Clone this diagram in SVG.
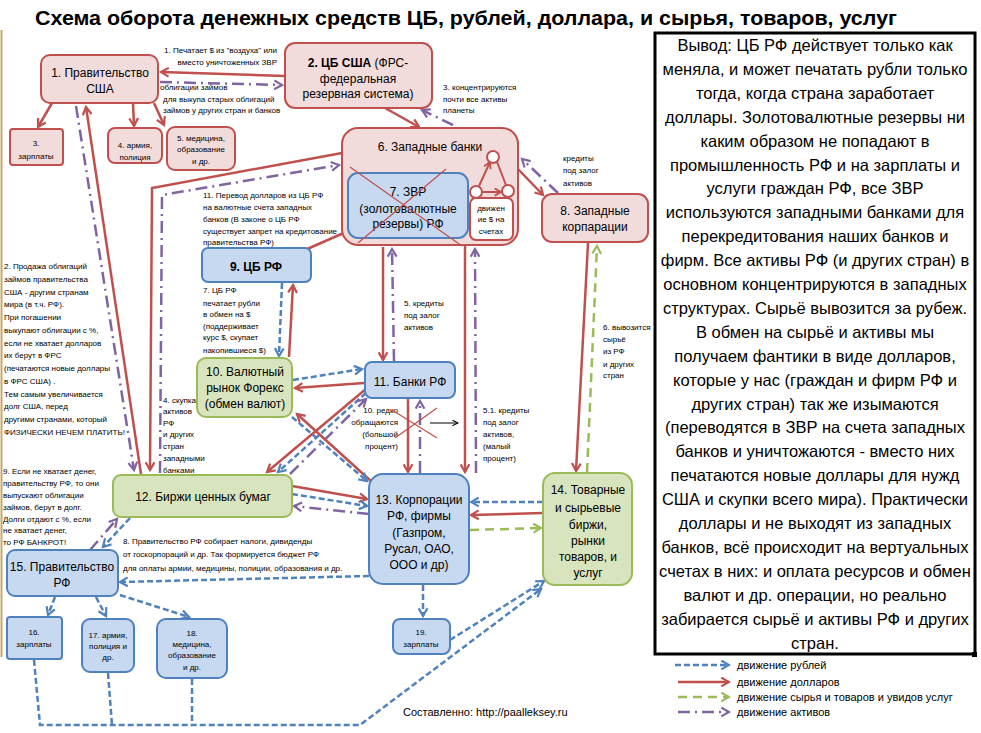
<svg xmlns="http://www.w3.org/2000/svg" width="981" height="733" viewBox="0 0 981 733">
<style>
.t{font-family:"Liberation Sans",Arial,sans-serif;fill:#000}
.s{font-size:8px}
.n{font-size:12px;text-anchor:middle}
.ns{font-size:8px;text-anchor:middle}
.pk{fill:#f2dcdb;stroke:#c0504d;stroke-width:2}
.bl{fill:#c6d9f1;stroke:#4f81bd;stroke-width:2}
.gr{fill:#d7e4bd;stroke:#9bbb59;stroke-width:2}
.wh{fill:#fff;stroke:#c0504d;stroke-width:2}
.r{stroke:#c0504d;stroke-width:2.5;fill:none;marker-end:url(#ar)}
.rn{stroke:#c0504d;stroke-width:2.5;fill:none}
.b{stroke:#4f81bd;stroke-width:2.5;fill:none;stroke-dasharray:6 3;marker-end:url(#ab)}
.bn{stroke:#4f81bd;stroke-width:2.5;fill:none;stroke-dasharray:6 3}
.g{stroke:#9bbb59;stroke-width:2.5;fill:none;stroke-dasharray:9 6;marker-end:url(#ag)}
.p{stroke:#8064a2;stroke-width:2.5;fill:none;stroke-dasharray:12 5 2 5;marker-end:url(#ap)}
.x{stroke:#c0504d;stroke-width:1.2;fill:none}
</style>
<defs>
<marker id="ar" viewBox="0 0 10 10" refX="8" refY="5" markerWidth="11" markerHeight="11" markerUnits="userSpaceOnUse" orient="auto"><path d="M1,1 L8,5 L1,9" fill="none" stroke="#c0504d" stroke-width="2"/></marker>
<marker id="ars" viewBox="0 0 10 10" refX="8" refY="5" markerWidth="9" markerHeight="9" markerUnits="userSpaceOnUse" orient="auto-start-reverse"><path d="M1,1 L8,5 L1,9" fill="none" stroke="#c0504d" stroke-width="2"/></marker>
<marker id="ab" viewBox="0 0 10 10" refX="8" refY="5" markerWidth="11" markerHeight="11" markerUnits="userSpaceOnUse" orient="auto"><path d="M1,1 L8,5 L1,9" fill="none" stroke="#4f81bd" stroke-width="2"/></marker>
<marker id="ag" viewBox="0 0 10 10" refX="8" refY="5" markerWidth="11" markerHeight="11" markerUnits="userSpaceOnUse" orient="auto"><path d="M1,1 L8,5 L1,9" fill="none" stroke="#9bbb59" stroke-width="2"/></marker>
<marker id="ap" viewBox="0 0 10 10" refX="8" refY="5" markerWidth="11" markerHeight="11" markerUnits="userSpaceOnUse" orient="auto"><path d="M1,1 L8,5 L1,9" fill="none" stroke="#8064a2" stroke-width="2"/></marker>
<marker id="ak" viewBox="0 0 10 10" refX="9" refY="5" markerWidth="7" markerHeight="7" markerUnits="userSpaceOnUse" orient="auto"><path d="M1,1 L9,5 L1,9" fill="none" stroke="#000" stroke-width="1.5"/></marker>
</defs>
<rect width="981" height="733" fill="#fff"/>
<line x1="1.5" y1="30" x2="1.5" y2="657" stroke="#c8a868" stroke-width="2"/>

<text class="t" x="35" y="25" font-size="20" font-weight="bold" textLength="862" lengthAdjust="spacingAndGlyphs">Схема оборота денежных средств ЦБ, рублей, доллара, и сырья, товаров, услуг</text>

<!-- free labels -->
<g id="labels" class="t s">
<text x="277" y="53" text-anchor="end">1. Печатает $  из "воздуха"  или</text>
<text x="277" y="65" text-anchor="end">вместо уничтоженных ЗВР</text>
<text x="160" y="90">облигации займов</text>
<text x="163" y="102">для выкупа старых облигаций</text>
<text x="163" y="113">займов у других стран и банков</text>
<text x="443" y="90">3. концентрируются</text>
<text x="443" y="102">почти все активы</text>
<text x="443" y="113"> планеты</text>
<text x="563" y="161">кредиты</text>
<text x="563" y="173">под залог</text>
<text x="563" y="186">активов</text>
<text x="203" y="198">11. Перевод долларов из ЦБ РФ</text>
<text x="203" y="210">на валютные счета западных</text>
<text x="203" y="222"> банков (В законе о ЦБ РФ</text>
<text x="203" y="234"> существует запрет на кредитование</text>
<text x="203" y="245"> правительства РФ)</text>
<text x="203" y="293">7. ЦБ РФ</text>
<text x="203" y="306">печатает рубли</text>
<text x="203" y="317">в обмен на $</text>
<text x="203" y="329">(поддерживает</text>
<text x="203" y="340">курс $, скупает</text>
<text x="203" y="353"> накопившиеся $)</text>
<text x="404" y="306">5. кредиты</text>
<text x="404" y="318">под залог</text>
<text x="404" y="330">активов</text>
<text x="603" y="330">6. вывозится</text>
<text x="603" y="342">сырьё</text>
<text x="603" y="354">из РФ</text>
<text x="603" y="367">и других</text>
<text x="603" y="378">стран</text>
<text x="398" y="413" text-anchor="end">10. редко</text>
<text x="398" y="425" text-anchor="end">обращаются</text>
<text x="398" y="437" text-anchor="end">(большой</text>
<text x="398" y="449" text-anchor="end">процент)</text>
<text x="483" y="413">5.1. кредиты</text>
<text x="483" y="425">под залог</text>
<text x="483" y="437">активов,</text>
<text x="483" y="449">(малый</text>
<text x="483" y="461">процент)</text>
<text x="163" y="403">4. скупка</text>
<text x="163" y="414">активов</text>
<text x="163" y="426">РФ</text>
<text x="163" y="437">и других</text>
<text x="163" y="449">стран</text>
<text x="163" y="461">западными</text>
<text x="163" y="473">банками</text>
<text x="4" y="269">2. Продажа облигаций</text>
<text x="4" y="282">займов правительства</text>
<text x="4" y="295">США - другим странам</text>
<text x="4" y="307"> мира (в т.ч. РФ).</text>
<text x="4" y="320">При погашении</text>
<text x="4" y="333">выкупают облигации с %,</text>
<text x="4" y="346">если не хватает долларов</text>
<text x="4" y="358">их берут в ФРС</text>
<text x="4" y="371">(печатаются новые доллары</text>
<text x="4" y="384"> в ФРС США) .</text>
<text x="4" y="397">Тем самым увеличивается</text>
<text x="4" y="409">долг США, перед</text>
<text x="4" y="422">другими странами, который</text>
<text x="4" y="435">ФИЗИЧЕСКИ НЕЧЕМ ПЛАТИТЬ!</text>
<text x="3" y="474">9. Если не хватает денег,</text>
<text x="3" y="486">правительству РФ, то они</text>
<text x="3" y="498">выпускают облигации</text>
<text x="3" y="510"> займов, берут в долг.</text>
<text x="3" y="522">Долги отдают с %, если</text>
<text x="3" y="533">не хватает денег,</text>
<text x="3" y="545">то РФ БАНКРОТ!</text>
<text x="123" y="544">8. Правительство РФ собирает налоги, дивиденды</text>
<text x="123" y="557"> от госкорпораций и др. Так формируется бюджет РФ</text>
<text x="123" y="571">для оплаты армии, медицины, полиции, образования и др.</text>
</g>

<!-- connectors -->
<g id="connectors">
<path class="r" d="M285,76 L161,72"/>
<path class="p" d="M160,82 L282,85"/>
<path class="r" d="M52,103 L38,127"/>
<path class="r" d="M133,103 L134,126"/>
<path class="r" d="M154,103 L164,125"/>
<path class="r" d="M385,108 L419,127"/>
<path class="p" d="M453,125 L422,110"/>
<path class="r" d="M141,474 L86,107"/>
<path class="p" d="M76,106 L134,470"/>
<path class="r" d="M342,153 L152,188 L150,470"/>
<path class="p" d="M160,473 L162,195 L339,165"/>
<path class="r" d="M517,168 L543,195"/>
<path class="p" d="M558,193 L522,159"/>
<path class="r" d="M588,243 L576,471"/>
<path class="g" d="M587,472 L597,246"/>
<path class="r" d="M305,250 L355,228"/>
<path class="b" d="M282,283 L279,356"/>
<path class="r" d="M289,357 L293,285"/>
<path class="r" d="M383,247 L383,360"/>
<path class="p" d="M394,361 L392,249"/>
<path class="r" d="M465,246 L465,472"/>
<path class="p" d="M476,473 L475,249"/>
<path class="r" d="M408,399 L408,472"/>
<path class="p" d="M420,473 L420,401"/>
<path class="b" d="M293,380 L362,369"/>
<path class="r" d="M364,383 L295,388"/>
<path class="r" d="M367,388 L267,472"/>
<path class="b" d="M366,393 L278,472"/>
<path class="p" d="M290,474 L366,399"/>
<path class="r" d="M372,482 L297,414"/>
<path class="b" d="M292,417 L367,481"/>
<path class="r" d="M292,486 L367,499"/>
<path class="b" d="M292,494 L367,506"/>
<path class="p" d="M369,514 L294,506"/>
<path class="b" d="M543,502 L471,502"/>
<path class="r" d="M543,513 L471,515"/>
<path class="g" d="M470,530 L541,528"/>
<path class="b" d="M369,576 L120,582"/>
<path class="b" d="M130,518 L103,547"/>
<path class="p" d="M90,550 L117,519"/>
<path class="b" d="M55,597 L48,615"/>
<path class="b" d="M96,597 L106,616"/>
<path class="b" d="M120,595 L189,617"/>
<path class="b" d="M423,585 L423,616"/>
<path class="b" d="M34,660 L40,725 L360,725 L541,589"/>
<path class="bn" d="M108,673 L112,725"/>
<path class="bn" d="M192,679 L192,725"/>
<path class="b" d="M450,640 L544,581"/>
<path d="M430,423 L458,423" stroke="#000" stroke-width="1" fill="none" marker-end="url(#ak)"/>
<path class="x" d="M392,410 L437,438 M395,438 L437,408"/>
</g>

<!-- nodes -->
<g id="n1"><rect class="pk" x="41" y="55" width="117" height="48" rx="9"/><text class="t n" x="100" y="77">1. Правительство</text><text class="t n" x="100" y="93">США</text></g>
<g id="n2"><rect class="pk" x="285" y="43" width="147" height="65" rx="10"/><text class="t n" x="358" y="67"><tspan font-weight="bold">2. ЦБ США</tspan> (ФРС-</text><text class="t n" x="358" y="83">федеральная</text><text class="t n" x="358" y="98">резервная система)</text></g>
<g id="n3"><rect class="pk" x="10" y="129" width="53" height="36" rx="3"/><text class="t ns" x="36" y="146">3.</text><text class="t ns" x="36" y="159">зарплаты</text></g>
<g id="n4"><rect class="pk" x="108" y="128" width="54" height="35" rx="7"/><text class="t ns" x="135" y="148">4. армия,</text><text class="t ns" x="135" y="160">полиция</text></g>
<g id="n5"><rect class="pk" x="167" y="127" width="68" height="43" rx="8"/><text class="t ns" x="201" y="141">5. медицина,</text><text class="t ns" x="201" y="152">образование</text><text class="t ns" x="201" y="164">и др.</text></g>
<g id="n6"><rect class="pk" x="342" y="128" width="176" height="117" rx="16"/><text class="t n" x="430" y="151">6. Западные  банки</text>
<path d="M490,162 L479,186 M497,162 L506,185 M483,192 L501,192" stroke="#c0504d" stroke-width="2" fill="none" marker-start="url(#ars)" marker-end="url(#ars)"/>
<circle cx="493" cy="157" r="6" class="wh"/><circle cx="476" cy="192" r="6" class="wh"/><circle cx="508" cy="191" r="6" class="wh"/>
<rect class="wh" x="470" y="198" width="43" height="42" rx="6"/><text class="t ns" x="491" y="211">движен</text><text class="t ns" x="491" y="222">ие $ на</text><text class="t ns" x="491" y="234">счетах</text></g>
<g id="n7"><rect class="bl" x="348" y="173" width="120" height="65" rx="10"/><text class="t n" x="408" y="196">7. ЗВР</text><text class="t n" x="408" y="213">(золотовалютные</text><text class="t n" x="408" y="228">резервы) РФ</text><path class="x" d="M350,167 L462,246 M358,243 L446,169"/></g>
<g id="n8"><rect class="pk" x="542" y="194" width="106" height="48" rx="10"/><text class="t n" x="595" y="215">8. Западные</text><text class="t n" x="595" y="231">корпарации</text></g>
<g id="n9"><rect class="bl" x="202" y="248" width="109" height="34" rx="6"/><text class="t n" x="256" y="271" font-weight="bold" font-size="13">9. ЦБ РФ</text></g>
<g id="n10"><rect class="gr" x="197" y="358" width="95" height="59" rx="9"/><text class="t n" x="245" y="376">10. Валютный</text><text class="t n" x="245" y="392">рынок Форекс</text><text class="t n" x="245" y="408">(обмен валют)</text></g>
<g id="n11"><rect class="bl" x="365" y="362" width="90" height="36" rx="7"/><text class="t n" x="410" y="386">11. Банки РФ</text></g>
<g id="n12"><rect class="gr" x="113" y="475" width="179" height="42" rx="8"/><text class="t n" x="203" y="501">12. Биржи  ценных бумаг</text></g>
<g id="n13"><rect class="bl" x="369" y="474" width="100" height="110" rx="14"/><text class="t n" x="419" y="504">13. Корпорации</text><text class="t n" x="419" y="520">РФ, фирмы</text><text class="t n" x="419" y="537">(Газпром,</text><text class="t n" x="419" y="553">Русал, ОАО,</text><text class="t n" x="419" y="569">ООО и др)</text></g>
<g id="n14"><rect class="gr" x="543" y="473" width="89" height="112" rx="12"/><text class="t n" x="588" y="494">14. Товарные</text><text class="t n" x="588" y="512">и сырьевые</text><text class="t n" x="588" y="529">биржи,</text><text class="t n" x="588" y="545">рынки</text><text class="t n" x="588" y="561">товаров, и</text><text class="t n" x="588" y="577">услуг</text></g>
<g id="n15"><rect class="bl" x="7" y="550" width="111" height="46" rx="8"/><text class="t n" x="62" y="571">15. Правительство</text><text class="t n" x="62" y="587">РФ</text></g>
<g id="n16"><rect class="bl" x="7" y="617" width="55" height="42" rx="3"/><text class="t ns" x="34" y="635">16.</text><text class="t ns" x="34" y="647">зарплаты</text></g>
<g id="n17"><rect class="bl" x="82" y="619" width="52" height="53" rx="8"/><text class="t ns" x="108" y="638">17. армия,</text><text class="t ns" x="108" y="649">полиция и</text><text class="t ns" x="108" y="660">др.</text></g>
<g id="n18"><rect class="bl" x="157" y="619" width="70" height="59" rx="9"/><text class="t ns" x="192" y="636">18.</text><text class="t ns" x="192" y="647">медицина,</text><text class="t ns" x="192" y="658">образование</text><text class="t ns" x="192" y="670">и др.</text></g>
<g id="n19"><rect class="bl" x="393" y="619" width="57" height="35" rx="7"/><text class="t ns" x="421" y="635">19.</text><text class="t ns" x="421" y="647">зарплаты</text></g>

<!-- conclusion box -->
<g id="conclusion">
<rect x="655" y="33" width="320" height="621" fill="#fff" stroke="#000" stroke-width="3"/>
<rect x="972" y="652" width="5" height="5" fill="#000"/>
<g class="t" font-size="16.5" text-anchor="middle">
<text x="815" y="51">Вывод: ЦБ РФ действует только как</text>
<text x="815" y="75">меняла, и может печатать рубли только</text>
<text x="815" y="99">тогда, когда страна заработает</text>
<text x="815" y="123">доллары. Золотовалютные резервы ни</text>
<text x="815" y="147">каким образом не попадают в</text>
<text x="815" y="171">промышленность РФ и на зарплаты и</text>
<text x="815" y="194">услуги граждан РФ, все ЗВР</text>
<text x="815" y="218">используются западными банками для</text>
<text x="815" y="242">перекредитования наших банков и</text>
<text x="815" y="266">фирм. Все активы РФ (и других стран) в</text>
<text x="815" y="290">основном концентрируются в западных</text>
<text x="815" y="314">структурах. Сырьё вывозится за рубеж.</text>
<text x="815" y="338">В обмен на сырьё и активы мы</text>
<text x="815" y="362">получаем фантики в виде долларов,</text>
<text x="815" y="386">которые у нас (граждан и фирм РФ и</text>
<text x="815" y="410">других стран) так же изымаются</text>
<text x="815" y="433">(переводятся в ЗВР на счета западных</text>
<text x="815" y="457">банков и уничтожаются - вместо них</text>
<text x="815" y="481">печатаются новые доллары для нужд</text>
<text x="815" y="505">США и скупки всего мира). Практически</text>
<text x="815" y="529">доллары и не выходят из западных</text>
<text x="815" y="553">банков, всё происходит на вертуальных</text>
<text x="815" y="577">счетах в них: и оплата ресурсов и обмен</text>
<text x="815" y="601">валют и др. операции, но реально</text>
<text x="815" y="625">забирается сырьё и активы РФ и других</text>
<text x="815" y="649">стран.</text>
</g>
</g>

<!-- legend -->
<g id="legend">
<path class="b" d="M675,665 L729,665"/>
<path class="r" d="M678,682 L729,682"/>
<path class="g" d="M678,697 L729,697"/>
<path class="p" d="M678,712 L729,712"/>
<g class="t" font-size="11">
<text x="737" y="669">движение рублей</text>
<text x="737" y="686">движение долларов</text>
<text x="737" y="701">движение сырья и товаров и увидов услуг</text>
<text x="737" y="716">движение активов</text>
</g>
</g>
<text class="t" x="403" y="716" font-size="11">Составленно: http://paalleksey.ru</text>
</svg>
